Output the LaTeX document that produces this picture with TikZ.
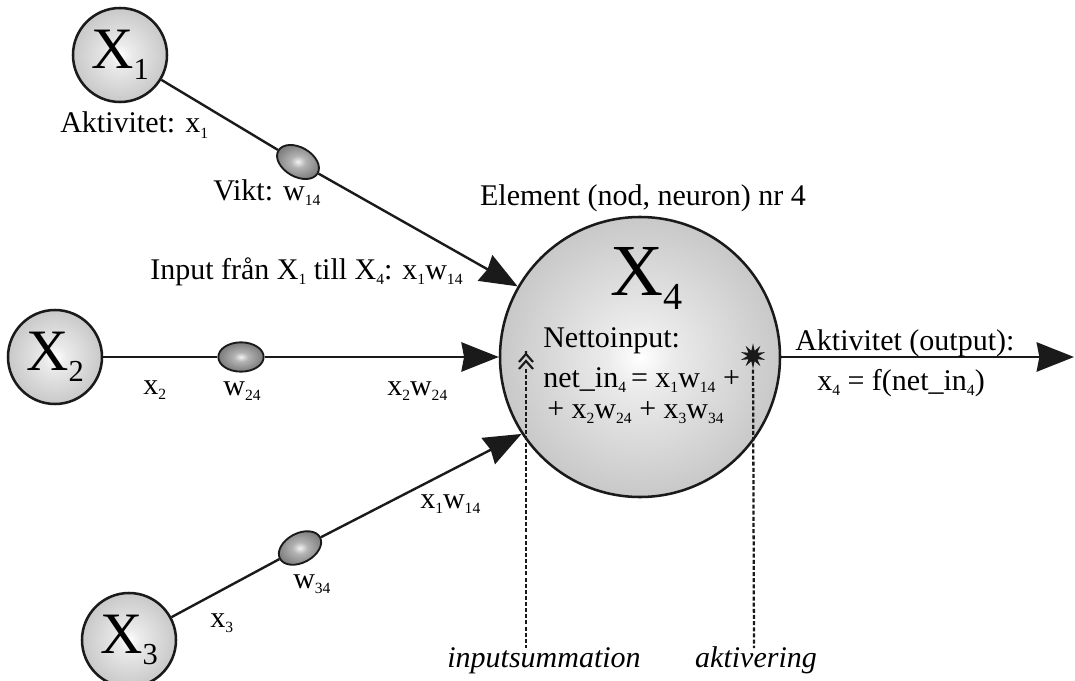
\documentclass[tikz,border=0pt]{standalone}
\usepackage{fontspec}
\setmainfont{Liberation Serif}
\usetikzlibrary{arrows.meta,shapes.geometric}
\definecolor{Ink}{HTML}{1A1A1A}
\pgfdeclareradialshading{ball}{\pgfpoint{0bp}{0bp}}{color(0bp)=(white);color(6bp)=(white!92!black);color(30bp)=(white!75!black);color(50bp)=(black!45)}
\pgfdeclareradialshading{bead}{\pgfpoint{0bp}{0bp}}{color(0bp)=(white!95!black);color(8bp)=(white!70!black);color(50bp)=(black!84)}
\newcommand{\lo}[1]{\raisebox{-0.18em}{\scalebox{0.52}{#1}}}

\begin{document}
\begin{tikzpicture}[x=0.75pt,y=-0.75pt,
  lbl/.style={font=\fontsize{22.5}{27}\selectfont,inner sep=0pt},
  ital/.style={font=\fontsize{22.5}{27}\selectfont\itshape,inner sep=0pt},
  unit/.style={circle,draw=Ink,line width=1.9pt,shading=ball,inner sep=0pt,minimum size=70.5pt},
  bead/.style={ellipse,draw=Ink,line width=1.4pt,shading=bead,inner sep=0pt,minimum width=34pt,minimum height=22pt},
  wire/.style={draw=Ink,line width=1.8pt},
  feed/.style={wire,-{Stealth[length=28pt,width=22pt,inset=2pt]}},
  probe/.style={draw=Ink,line width=1.7pt,dash pattern=on 3pt off 1.6pt}]
  \useasboundingbox (0,0) rectangle (1075,681);

  % the element itself
  \node[unit,minimum size=210pt] (X4) at (640,357) {};
  \node[font=\fontsize{55}{55}\selectfont,anchor=base west,inner sep=0pt] (X4l) at (610,296) {X\lo{4}};
  \node[lbl,anchor=base west] (netto) at (543,347) {Nettoinput:};
  \node[lbl,anchor=base west] (eq1) at (543,387) {net\_in\lo{4}\,= x\lo{1}w\lo{14} +};
  \node[lbl,anchor=base west] (eq2) at (547,418) {+ x\lo{2}w\lo{24} + x\lo{3}w\lo{34}};
  \node[lbl,anchor=base] (elem) at (643,205) {Element (nod, neuron) nr 4};

  % inputs
  \foreach \i/\cx/\cy/\bx/\by/\rot/\ang in {1/120/55/298/162/-30/150, 2/55/357/241/357/0/180, 3/129/640/300/548/28/213} {
    \node[unit,font=\fontsize{44}{44}\selectfont] (X\i) at (\cx,\cy) {X\lo{\i}};
    \node[bead,rotate=\rot] (w\i4) at (\bx,\by) {};
    \draw[wire] (X\i) -- (w\i4);
    \draw[feed] (w\i4) -- (X4.\ang);
  }

  % output
  \coordinate (out) at (1074,357);
  \draw[feed] (X4) -- (out);

  % summation and activation marks
  \coordinate (sum) at (526,369);
  \coordinate (sumfoot) at (526,648);
  \draw[Ink,line width=1.6pt] (sum) ++(-7,0) -- ++(7,-8) -- ++(7,8)
    ++(-14,-7) -- ++(7,-8) -- ++(7,8) ++(-7,-8) -- ++(0,-3);
  \draw[probe] (sum) -- (sumfoot);
  \node[star,star points=10,star point ratio=2.3,fill=Ink,inner sep=0pt,minimum size=19pt] (act) at (753,356) {};
  \coordinate (actfoot) at (754,648);
  \draw[probe] (act) -- (actfoot);

  % labels
  \node[lbl,anchor=base west] (akt1) at (60,133) {Aktivitet: x\lo{1}};
  \node[lbl,anchor=base west] (vikt) at (213,200) {Vikt: w\lo{14}};
  \node[lbl,anchor=base west] (inp) at (150,279) {Input från X\lo{1} till X\lo{4}: x\lo{1}w\lo{14}};
  \node[lbl,anchor=base west] (x2l) at (143,394) {x\lo{2}};
  \node[lbl,anchor=base] (w24l) at (242,395) {w\lo{24}};
  \node[lbl,anchor=base west] (x2w) at (387,395) {x\lo{2}w\lo{24}};
  \node[lbl,anchor=base west] (x1w) at (420,508) {x\lo{1}w\lo{14}};
  \node[lbl,anchor=base west] (w34l) at (293,588) {w\lo{34}};
  \node[lbl,anchor=base west] (x3l) at (210,627) {x\lo{3}};
  \node[ital,anchor=base] (isum) at (544,667) {inputsummation};
  \node[ital,anchor=base] (aktv) at (756,667) {aktivering};
  \node[lbl,anchor=base west] (outl) at (795,350) {Aktivitet (output):};
  \node[lbl,anchor=base west] (fout) at (817,390) {x\lo{4} = f(net\_in\lo{4})};
\end{tikzpicture}
\end{document}
